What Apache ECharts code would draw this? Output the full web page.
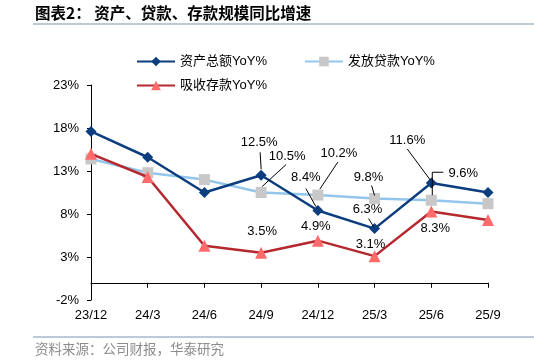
<!DOCTYPE html>
<html><head><meta charset="utf-8">
<script src="https://cdn.jsdelivr.net/npm/echarts@6/dist/echarts.min.js"></script>
<style>html,body{margin:0;padding:0;background:#fff}#c{width:534px;height:361px}</style>
</head><body><div id="c"></div>
<script>
const categories = ['23/12','24/3','24/6','24/9','24/12','25/3','25/6','25/9'];
const assetsYoY = [17.6,14.6,10.5,12.5,8.4,6.3,11.6,10.5];
const loansYoY = [14.4,12.8,12.0,10.5,10.2,9.8,9.6,9.2];
const depositsYoY = [15.0,12.3,4.3,3.5,4.9,3.1,8.3,7.3];
const yTicks = [-2,3,8,13,18,23];
const seriesNames = ['资产总额YoY%','发放贷款YoY%','吸收存款YoY%'];
const titleText = '图表2： 资产、贷款、存款规模同比增速';
const sourceText = '资料来源：公司财报，华泰研究';

const arrs = {assets: assetsYoY, loans: loansYoY, deposits: depositsYoY};
// annotation layout: label offset and leader line offsets relative to the point
const annoLayout = [
  {arr:'assets', i:3, l:[-2,-33], line:[[-1,-23],[0,-6]]},
  {arr:'loans', i:3, l:[26,-36], line:[[25,-28],[1,-6]]},
  {arr:'assets', i:4, l:[-12,-33], line:[[-12,-22],[-2,-4]]},
  {arr:'loans', i:4, l:[21,-42], line:[[20,-33],[2,-6]]},
  {arr:'loans', i:5, l:[-6,-21], line:[[-3,-13],[0,-3]]},
  {arr:'assets', i:5, l:[-7,-19], line:[[-6,-10],[-1,-2]]},
  {arr:'assets', i:6, l:[-24,-43], line:[[-24,-34],[-1,-3]]},
  {arr:'loans', i:6, l:[32,-27], line:[[12,-28],[1,-28],[1,-5]]},
  {arr:'deposits', i:3, l:[1,-21]},
  {arr:'deposits', i:4, l:[-2,-14]},
  {arr:'deposits', i:5, l:[-4,-12]},
  {arr:'deposits', i:6, l:[4,17]}
];
const annoData = annoLayout.map(a => [a.i, arrs[a.arr][a.i]]);

const FONT = '"Liberation Sans", Arial, "Noto Sans CJK SC", sans-serif';
const chart = echarts.init(document.getElementById('c'), null, {renderer:'canvas'});
chart.setOption({
  animation: false,
  backgroundColor: '#fff',
  grid: {left: 91, right: 46, top: 85, bottom: 61, containLabel: false},
  legend: [
    {data: seriesNames.slice(0,2), left: 131, top: 50, itemWidth: 38, itemHeight: 12, itemGap: 37,
     textStyle: {fontSize: 13, color: '#000', fontFamily: FONT}},
    {data: seriesNames.slice(2), left: 131, top: 74, itemWidth: 38, itemHeight: 12,
     textStyle: {fontSize: 13, color: '#000', fontFamily: FONT}}
  ],
  xAxis: [
    {type: 'category', data: categories, boundaryGap: false, position: 'bottom',
     axisLine: {show: false, onZero: false}, axisTick: {show: false},
     axisLabel: {fontSize: 13, color: '#000', margin: 9, fontFamily: FONT}, splitLine: {show: false}},
    {type: 'category', data: categories, boundaryGap: false, position: 'bottom',
     axisLine: {show: true, onZero: true, lineStyle: {color: '#000', width: 1}},
     axisTick: {show: true, length: 5, lineStyle: {color: '#000'}},
     axisLabel: {show: false}, splitLine: {show: false}}
  ],
  yAxis: {type: 'value', min: -2, max: 23,
    axisLine: {show: true, lineStyle: {color: '#000', width: 1}},
    axisTick: {show: true, length: 4, customValues: yTicks, lineStyle: {color: '#000'}},
    axisLabel: {customValues: yTicks, formatter: v => v + '%', fontSize: 13, color: '#000', margin: 12, fontFamily: FONT},
    splitLine: {show: false}},
  series: [
    {name: seriesNames[0], type: 'line', data: assetsYoY, symbol: 'diamond', symbolSize: 11,
     lineStyle: {color: '#0B3D7F', width: 2.5}, itemStyle: {color: '#0B3D7F'}, z: 3},
    {name: seriesNames[1], type: 'line', data: loansYoY, symbol: 'rect', symbolSize: 11,
     lineStyle: {color: '#93C6EC', width: 2.5}, itemStyle: {color: '#C8C8C8'}, z: 2},
    {name: seriesNames[2], type: 'line', data: depositsYoY, symbol: 'triangle', symbolSize: 12,
     lineStyle: {color: '#B5282E', width: 2.5}, itemStyle: {color: '#FF6B6B'}, z: 4},
    {type: 'custom', data: annoData, z: 10, silent: true,
     encode: {x: 0, y: 1},
     renderItem: function (params, api) {
       const a = annoLayout[params.dataIndex];
       const p = api.coord([api.value(0), api.value(1)]);
       const children = [{
         type: 'text', x: p[0] + a.l[0], y: p[1] + a.l[1],
         style: {text: api.value(1).toFixed(1) + '%', fill: '#000', fontSize: 13, fontFamily: FONT,
                 align: 'center', verticalAlign: 'middle', textAlign: 'center', textVerticalAlign: 'middle'}
       }];
       if (a.line) {
         children.push({type: 'polyline', shape: {points: a.line.map(q => [p[0] + q[0], p[1] + q[1]])},
           style: {stroke: '#000', lineWidth: 1, fill: null}});
       }
       return {type: 'group', children: children};
     }}
  ],
  graphic: [
    {type: 'text', left: 35, top: 5, style: {text: titleText, fill: '#000', font: 'bold 15.5px "Noto Sans CJK SC", sans-serif'}},
    {type: 'line', shape: {x1: 33, y1: 24, x2: 534, y2: 24}, style: {stroke: '#A5B8CB', lineWidth: 1.5}},
    {type: 'line', shape: {x1: 33, y1: 337, x2: 534, y2: 337}, style: {stroke: '#A5B8CB', lineWidth: 1.5}},
    {type: 'text', left: 35, top: 342, style: {text: sourceText, fill: '#8c8c8c', font: '13.5px "Noto Sans CJK SC", sans-serif'}}
  ]
});
</script></body></html>
